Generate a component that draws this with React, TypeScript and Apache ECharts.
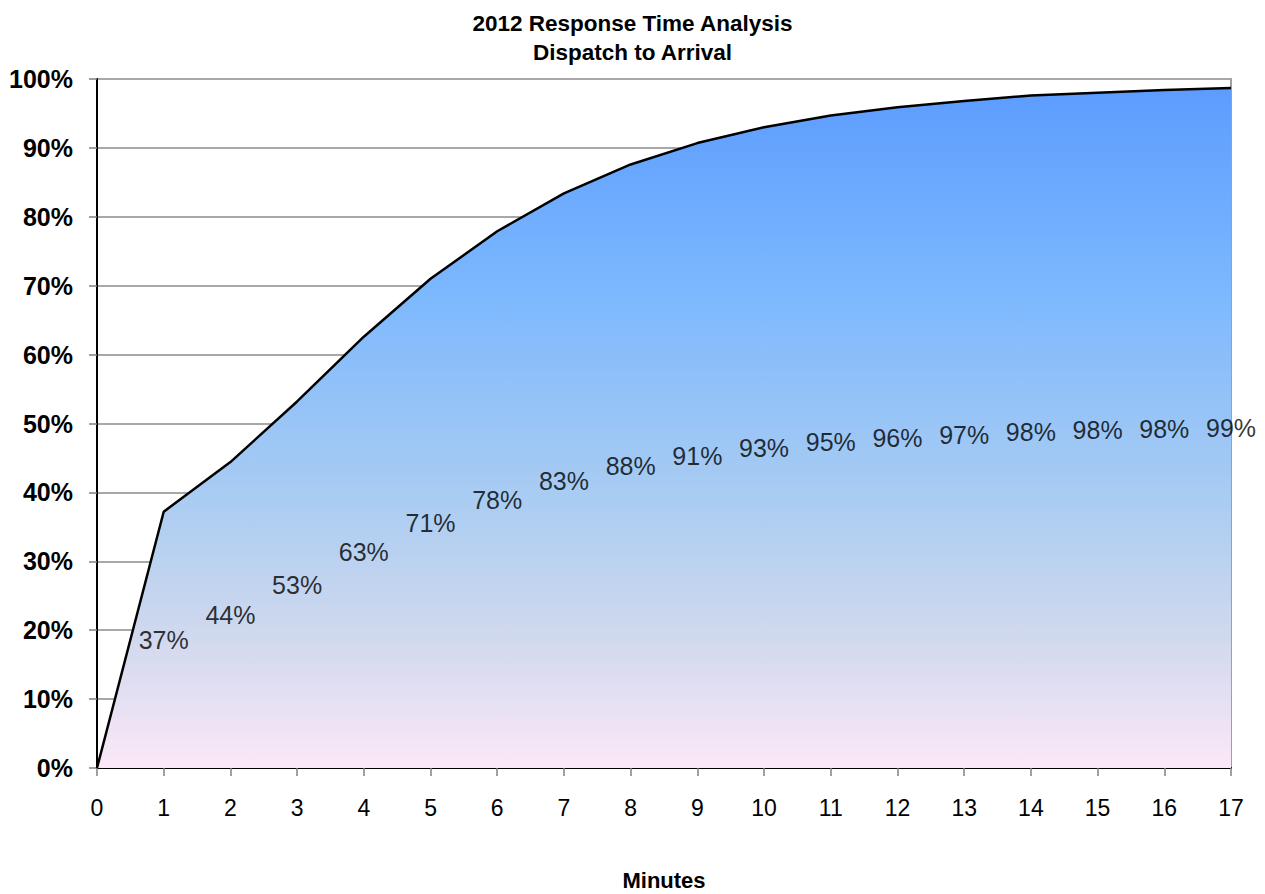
import React, { useEffect, useRef } from "react";
import * as echarts from "echarts";

const titleLines = ["2012 Response Time Analysis", "Dispatch to Arrival"];
const xAxisTitle = "Minutes";
const minutes = [0, 1, 2, 3, 4, 5, 6, 7, 8, 9, 10, 11, 12, 13, 14, 15, 16, 17];
const cumulativePct = [0, 37.2, 44.4, 53.2, 62.6, 71.0, 77.9, 83.4, 87.6, 90.7, 93.0, 94.7, 95.9, 96.8, 97.6, 98.0, 98.4, 98.7];

const FONT = "'Liberation Sans', Arial, sans-serif";

export default function App() {
  const ref = useRef<HTMLDivElement>(null);
  useEffect(() => {
    if (!ref.current) return;
    const chart = echarts.init(ref.current, undefined, { renderer: "svg" });
    const lineData = minutes.map((m, i) => [m, cumulativePct[i]]);
    const labelData = minutes
      .map((m, i) => ({ m, v: cumulativePct[i], i }))
      .filter((d) => d.v > 0)
      .map((d) => ({ value: [d.m, d.v / 2], idx: d.i }));
    chart.setOption({
      animation: false,
      backgroundColor: "#ffffff",
      textStyle: { fontFamily: FONT },
      title: {
        text: titleLines.join("\n"),
        left: "center",
        top: 4,
        textStyle: { fontFamily: FONT, fontSize: 22.5, fontWeight: "bold", color: "#000", lineHeight: 29 },
      },
      grid: {
        left: 97,
        right: 34,
        top: 79,
        bottom: 126,
        outerBoundsMode: "none",
        containLabel: false,
        show: true,
        borderColor: "#a0a0a0",
        borderWidth: 2,
      },
      xAxis: {
        type: "value",
        min: 0,
        max: 17,
        interval: 1,
        name: xAxisTitle,
        nameLocation: "middle",
        nameGap: 100,
        nameTextStyle: { fontFamily: FONT, fontSize: 22, fontWeight: "bold", color: "#000", lineHeight: 24 },
        axisLine: { show: true, lineStyle: { color: "#000", width: 2 } },
        axisTick: { show: true, length: 8, lineStyle: { color: "#808080", width: 1.5 } },
        axisLabel: { fontFamily: FONT, fontSize: 23, color: "#000", margin: 28 },
        splitLine: { show: false },
      },
      yAxis: {
        type: "value",
        min: 0,
        max: 100,
        interval: 10,
        axisLine: { show: true, lineStyle: { color: "#000", width: 2 } },
        axisTick: { show: true, length: 8, lineStyle: { color: "#808080", width: 1.5 } },
        axisLabel: {
          fontFamily: FONT,
          fontSize: 25,
          fontWeight: "bold",
          color: "#000",
          margin: 24,
          formatter: "{value}%",
        },
        splitLine: { show: true, lineStyle: { color: "#a8a8a8", width: 2 } },
      },
      series: [
        {
          type: "line",
          data: lineData,
          symbol: "none",
          lineStyle: { color: "#000", width: 2.5 },
          areaStyle: {
            opacity: 1,
            color: new echarts.graphic.LinearGradient(0, 0, 0, 1, [
              { offset: 0, color: "#5c9cfe" },
              { offset: 0.3, color: "#7cb8fe" },
              { offset: 0.6, color: "#a9ccf2" },
              { offset: 0.8, color: "#cfd8ee" },
              { offset: 1, color: "#fbe8f7" },
            ]),
          },
          z: 2,
        },
        {
          type: "scatter",
          data: labelData,
          symbolSize: 0,
          silent: true,
          z: 5,
          label: {
            show: true,
            position: "inside",
            fontFamily: FONT,
            fontSize: 25,
            color: "#000",
            formatter: (p: any) => Math.round(cumulativePct[p.data.idx]) + "%",
          },
        },
      ],
    });
    return () => chart.dispose();
  }, []);
  return (
    <div
      ref={ref}
      style={{ position: "fixed", left: 0, top: 0, width: 1265, height: 894 }}
    />
  );
}
